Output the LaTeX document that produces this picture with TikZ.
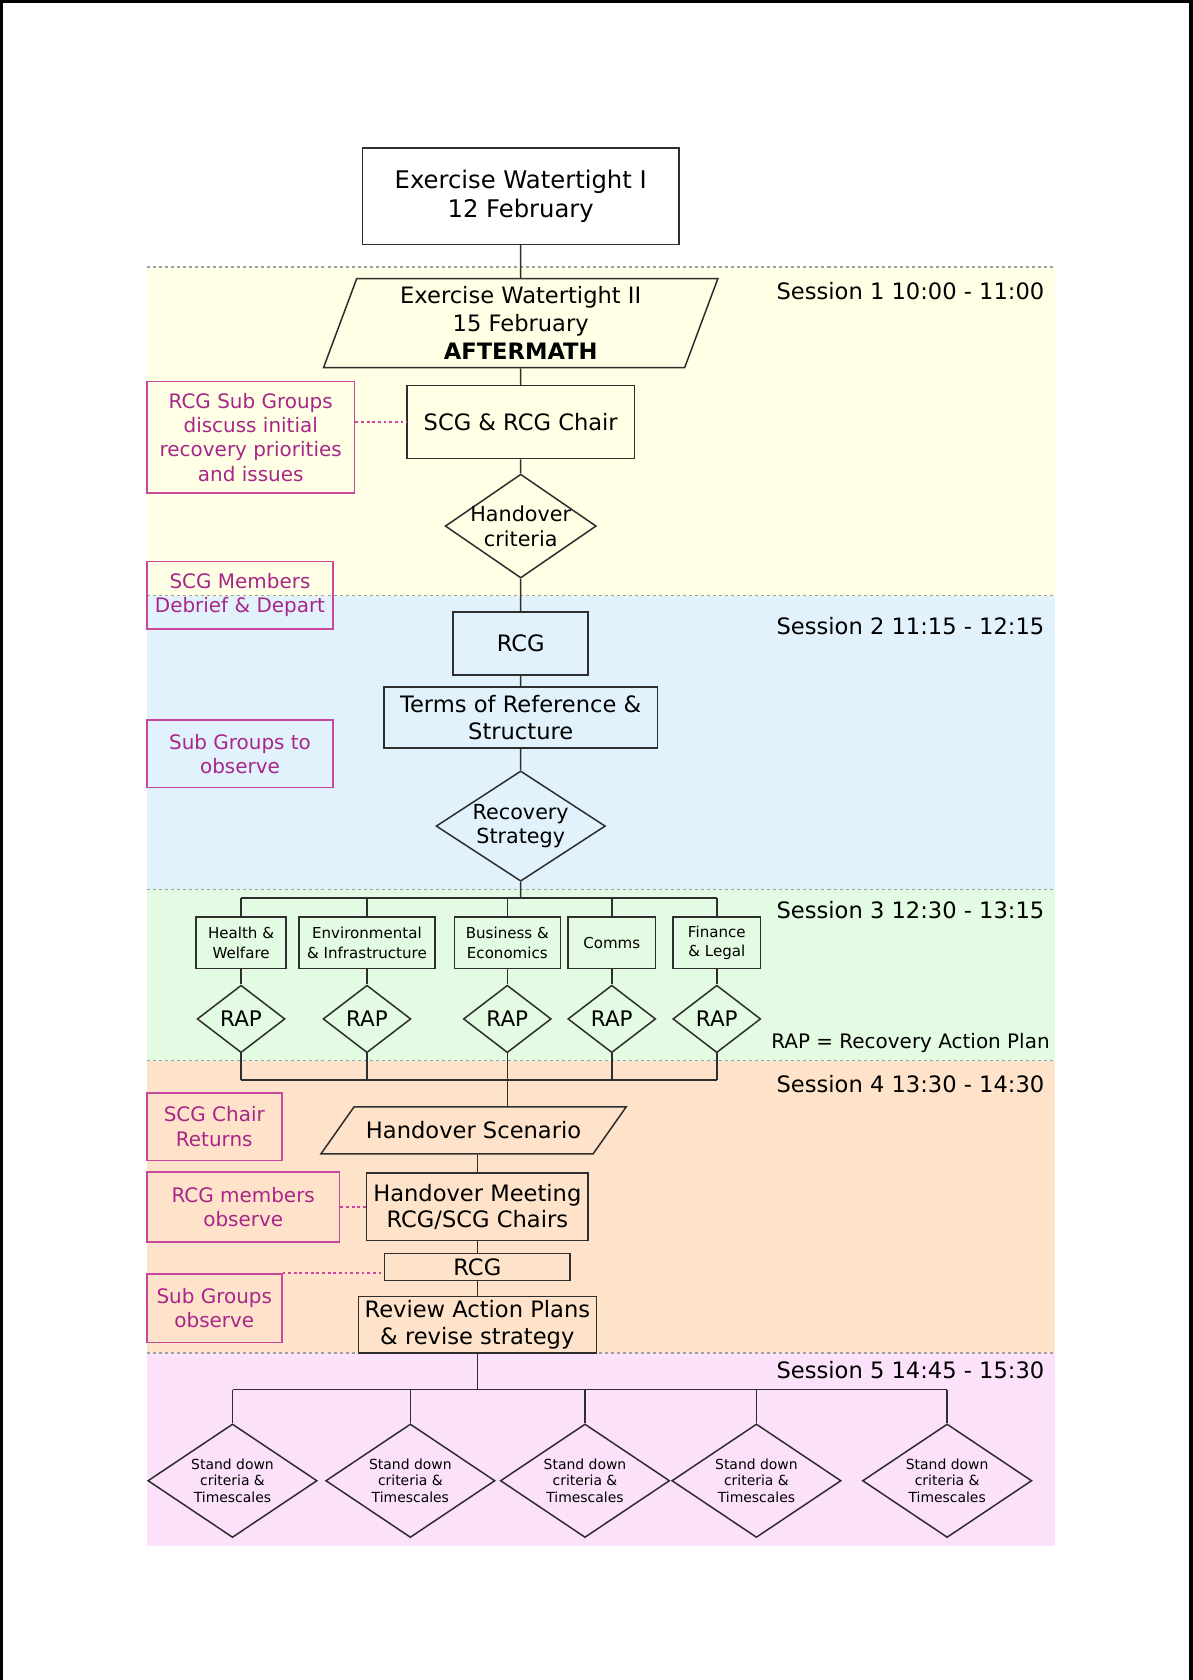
\documentclass[tikz,border=0pt]{standalone}
\usepackage{fontspec}
\setmainfont{DejaVu Sans}
\usepackage{tikz}
\usetikzlibrary{shapes.geometric}

\definecolor{bandyellow}{HTML}{FFFFE6}
\definecolor{bandblue}{HTML}{E1F2FC}
\definecolor{bandgreen}{HTML}{E3FAE3}
\definecolor{bandpeach}{HTML}{FEE3CA}
\definecolor{bandpink}{HTML}{FBE2FA}
\definecolor{noteline}{HTML}{C9489E}
\definecolor{notetext}{HTML}{A82688}
\definecolor{sepgray}{HTML}{A0A0A0}
\definecolor{boxline}{HTML}{2E2E2E}

\tikzset{
  dims/.style 2 args={minimum width=#1*0.02cm,minimum height=#2*0.02cm},
  box/.style={draw=boxline,line width=0.8pt,inner sep=0pt,align=center,font=\fontsize{12pt}{14.3pt}\selectfont},
  grp/.style={box,font=\fontsize{8pt}{10.2pt}\selectfont},
  decision/.style={diamond,aspect=1.45,draw=boxline,line width=0.8pt,inner sep=-1.5pt,align=center,font=\fontsize{11pt}{13pt}\selectfont},
  note/.style={draw=noteline,line width=0.8pt,inner sep=0pt,align=center,text=notetext,font=\fontsize{10.6pt}{12.9pt}\selectfont},
  session/.style={anchor=east,inner sep=0pt,font=\fontsize{12pt}{14pt}\selectfont},
  conn/.style={draw=boxline,line width=0.8pt},
  notelink/.style={draw=noteline,line width=0.9pt,dash pattern=on 1.5pt off 1.5pt},
  sepline/.style={draw=sepgray,line width=0.8pt,dash pattern=on 1.6pt off 1.6pt}
}

\begin{document}
\begin{tikzpicture}[x=0.02cm,y=-0.02cm]
\useasboundingbox (0,0) rectangle (1113,1568);
\draw[line width=1.7pt] (1.5,1568) -- (1.5,1.5) -- (1111.5,1.5) -- (1111.5,1568);

% session bands
\fill[bandyellow] (137,249) rectangle (985,556);
\fill[bandblue] (137,556) rectangle (985,830);
\fill[bandgreen] (137,830) rectangle (985,990);
\fill[bandpeach] (137,990) rectangle (985,1263);
\fill[bandpink] (137,1263) rectangle (985,1443);
\foreach \y in {249,556,830,990,1263} \draw[sepline] (137,\y) -- (985,\y);

\node[session] (s1) at (975,272) {Session 1 10:00 - 11:00};
\node[session] (s2) at (975,584) {Session 2 11:15 - 12:15};
\node[session] (s3) at (975,849) {Session 3 12:30 - 13:15};
\node[session] (s4) at (975,1012) {Session 4 13:30 - 14:30};
\node[session] (s5) at (975,1279) {Session 5 14:45 - 15:30};
\node[session,font=\fontsize{10.6pt}{12pt}\selectfont] (key) at (980,973) {RAP = Recovery Action Plan};

% main column
\node[box,dims={295}{90},font=\fontsize{12.9pt}{15.4pt}\selectfont] (ew1) at (486,183) {Exercise Watertight I\\12 February};
\node[box,trapezium,trapezium left angle=69.5,trapezium right angle=110.5,trapezium stretches body,inner ysep=4pt,dims={368}{83},font=\fontsize{12pt}{15pt}\selectfont] (ew2) at (486,301.5) {Exercise Watertight II\\15 February\\\textbf{AFTERMATH}};
\node[box,dims={212}{68}] (scg) at (486,394) {SCG \& RCG Chair};
\node[decision,dims={141}{97}] (hoc) at (486,491) {Handover\\criteria};
\node[box,dims={126}{59}] (rcg1) at (486,600.5) {RCG};
\node[box,dims={255}{57}] (tor) at (486,669.5) {Terms of Reference \&\\Structure};
\node[decision,dims={158}{103}] (rs) at (486,771) {Recovery\\Strategy};
\coordinate (j1) at (486,838);

% sub groups
\node[grp,dims={84}{48}] (grp1) at (225,880) {Health \&\\Welfare};
\node[grp,dims={127}{48}] (grp2) at (342.5,880) {Environmental\\\& Infrastructure};
\node[grp,dims={99}{48}] (grp3) at (473.5,880) {Business \&\\Economics};
\node[grp,dims={82}{48}] (grp4) at (571,880) {Comms};
\node[grp,dims={82}{48}] (grp5) at (669,880) {Finance\\\& Legal};
\node[decision,dims={82}{63},font=\fontsize{11.4pt}{13pt}\selectfont] (rap1) at (225,951) {RAP};
\node[decision,dims={82}{63},font=\fontsize{11.4pt}{13pt}\selectfont] (rap2) at (342.5,951) {RAP};
\node[decision,dims={82}{63},font=\fontsize{11.4pt}{13pt}\selectfont] (rap3) at (473.5,951) {RAP};
\node[decision,dims={82}{63},font=\fontsize{11.4pt}{13pt}\selectfont] (rap4) at (571,951) {RAP};
\node[decision,dims={82}{63},font=\fontsize{11.4pt}{13pt}\selectfont] (rap5) at (669,951) {RAP};
\coordinate (j2) at (473.5,1008);

% handover
\node[box,trapezium,trapezium left angle=54,trapezium right angle=126,trapezium stretches body,inner ysep=7.5pt,dims={285}{44}] (hs) at (442,1055) {Handover Scenario};
\node[box,dims={207}{63}] (hm) at (445.5,1126.5) {Handover Meeting\\RCG/SCG Chairs};
\node[box,dims={173}{25}] (rcg2) at (445.5,1182.5) {RCG};
\node[box,dims={222}{53}] (rev) at (445.5,1236.5) {Review Action Plans\\\& revise strategy};
\coordinate (j3) at (445.5,1297);

% stand down
\node[decision,dims={158}{106},font=\fontsize{7.4pt}{8.8pt}\selectfont] (sd1) at (217,1382) {Stand down\\criteria \&\\Timescales};
\node[decision,dims={158}{106},font=\fontsize{7.4pt}{8.8pt}\selectfont] (sd2) at (383,1382) {Stand down\\criteria \&\\Timescales};
\node[decision,dims={158}{106},font=\fontsize{7.4pt}{8.8pt}\selectfont] (sd3) at (546,1382) {Stand down\\criteria \&\\Timescales};
\node[decision,dims={158}{106},font=\fontsize{7.4pt}{8.8pt}\selectfont] (sd4) at (706,1382) {Stand down\\criteria \&\\Timescales};
\node[decision,dims={158}{106},font=\fontsize{7.4pt}{8.8pt}\selectfont] (sd5) at (884,1382) {Stand down\\criteria \&\\Timescales};

% side notes
\node[note,dims={194}{104}] (n1) at (234,408) {RCG Sub Groups\\discuss initial\\recovery priorities\\and issues};
\node[note,dims={174}{63}] (n2) at (224,555.5) {SCG Members\\Debrief \& Depart};
\node[note,dims={174}{63}] (n3) at (224,703.5) {Sub Groups to\\observe};
\node[note,dims={126}{63}] (n4) at (200,1051.5) {SCG Chair\\Returns};
\node[note,dims={180}{65}] (n5) at (227,1126.5) {RCG members\\observe};
\node[note,dims={126}{64}] (n6) at (200,1221) {Sub Groups\\observe};

% connectors
\draw[conn] (ew1) -- (ew2) -- (scg) -- (hoc) -- (rcg1) -- (tor) -- (rs) -- (j1);
\draw[conn] (grp1.north |- j1) -- (grp5.north |- j1);
\foreach \g in {1,...,5} \draw[conn] (grp\g.north) -- (grp\g.north |- j1);
\foreach \g in {1,...,5} \draw[conn] (grp\g) -- (rap\g) (rap\g.south) -- (rap\g.south |- j2);
\draw[conn] (rap1.south |- j2) -- (rap5.south |- j2);
\draw[conn] (j2) -- (j2 |- hs.north);
\draw[conn] (hs.south -| hm.north) -- (hm.north);
\draw[conn] (hm) -- (rcg2) -- (rev) -- (j3);
\draw[conn] (sd1.north |- j3) -- (sd5.north |- j3);
\foreach \d in {1,...,5} \draw[conn] (sd\d.north |- j3) -- (sd\d.north);
\draw[notelink] (n1.east |- scg.west) -- (scg.west);
\draw[notelink] (n5.east |- hm.west) -- (hm.west);
\draw[notelink] (n6.north east) -- (n6.north east -| rcg2.west);
\end{tikzpicture}
\end{document}
